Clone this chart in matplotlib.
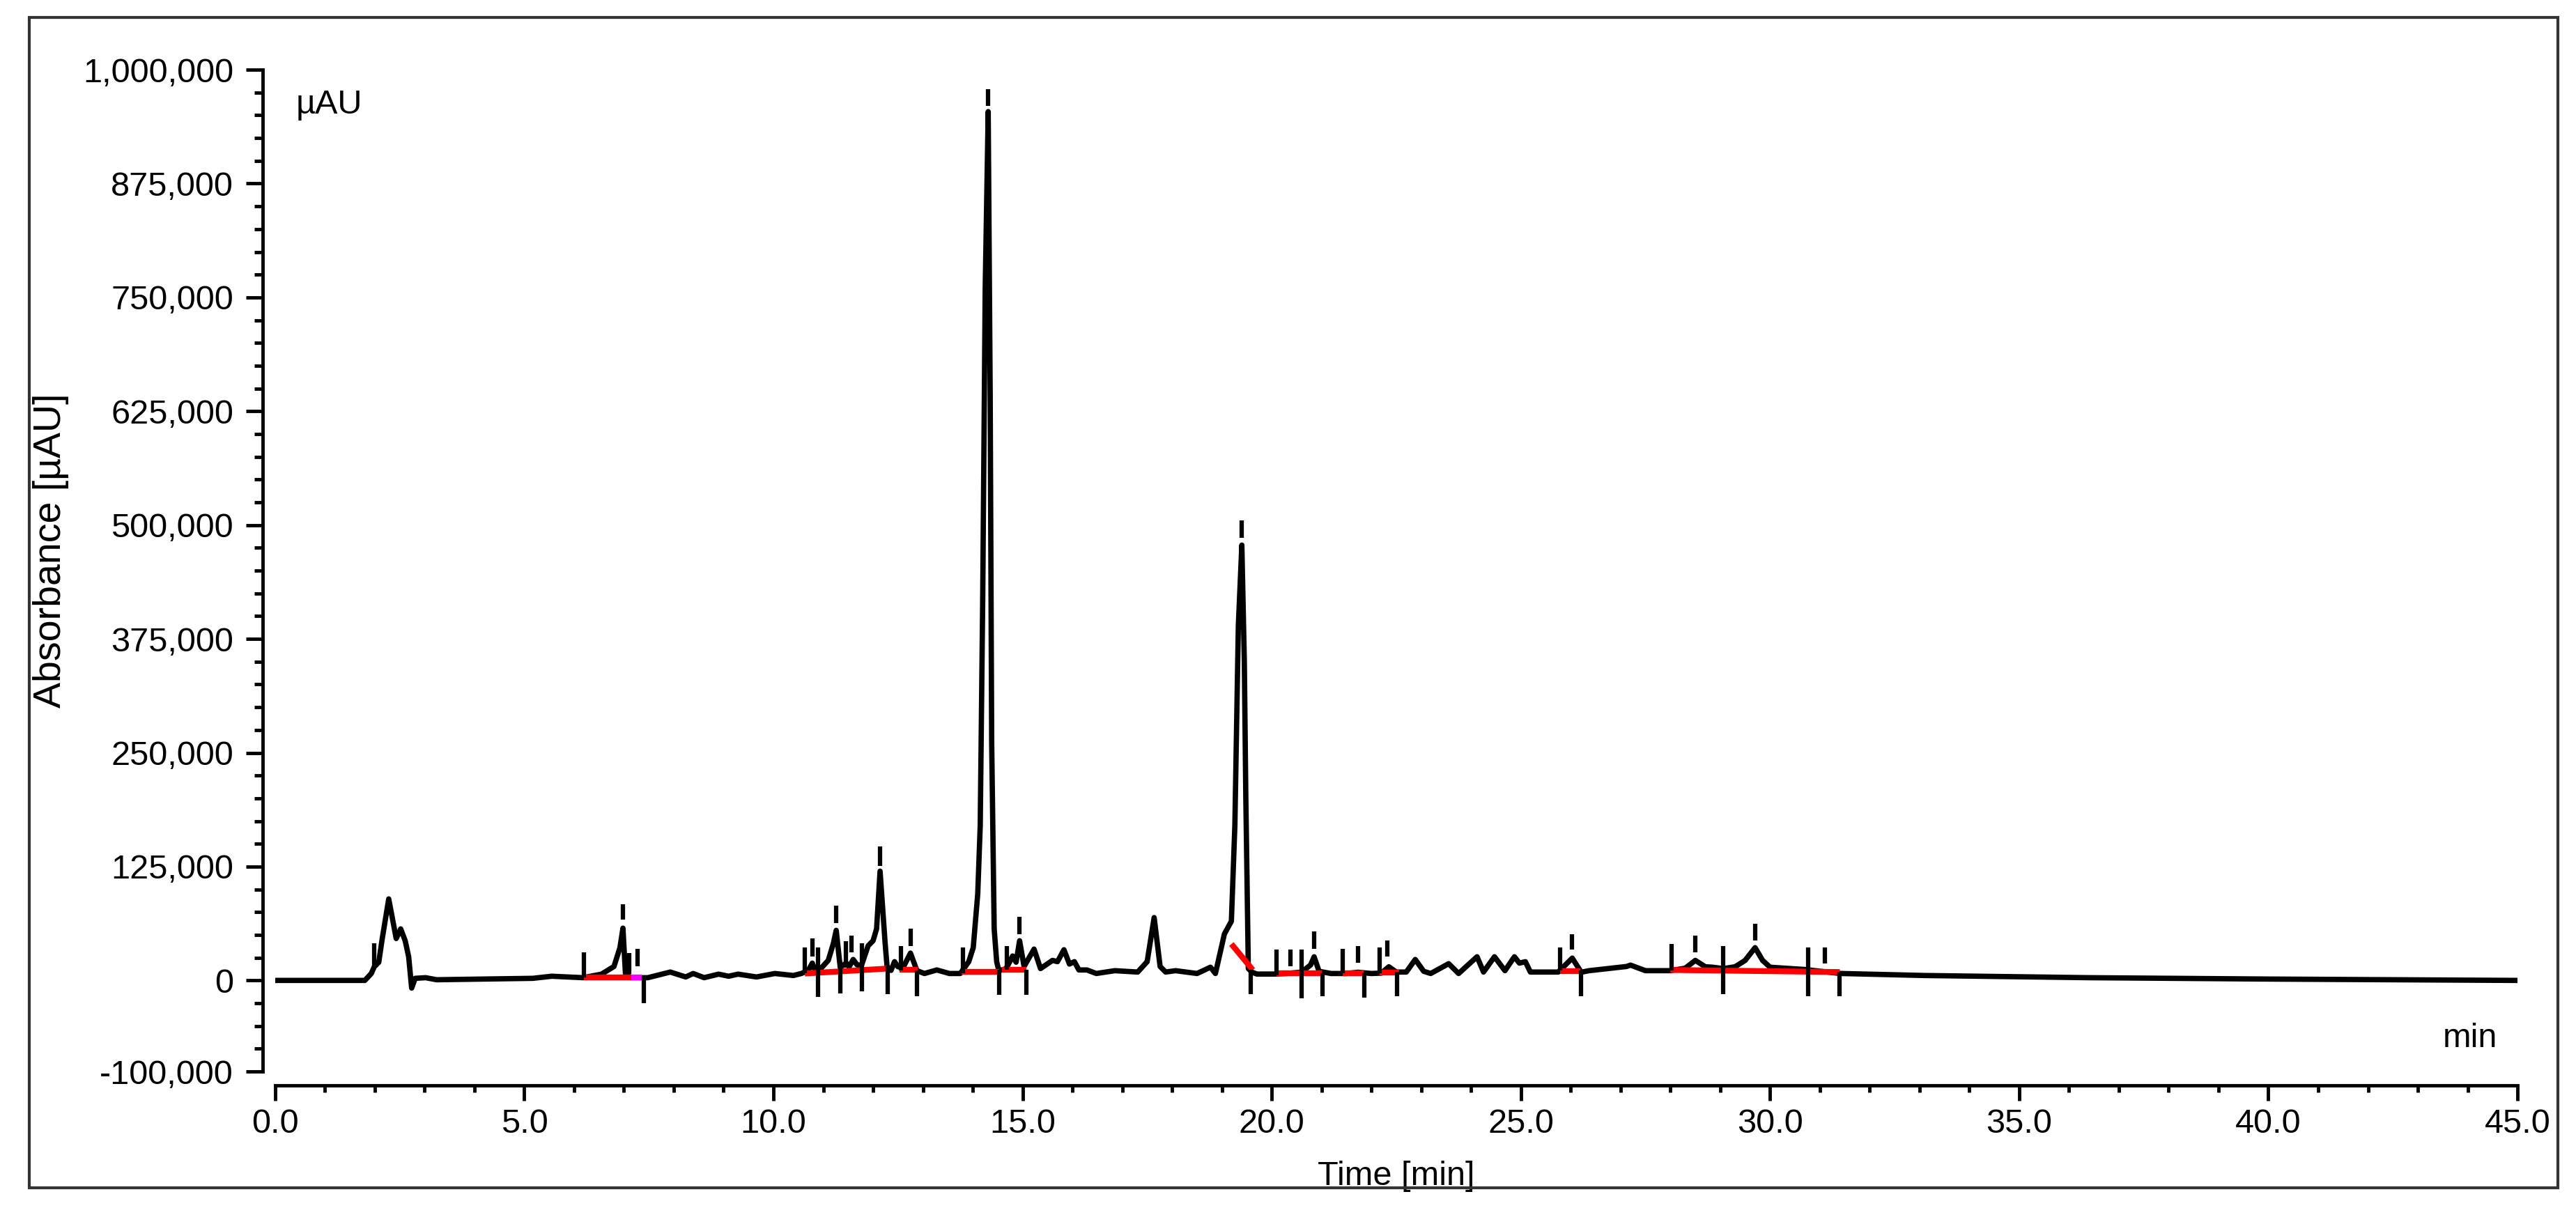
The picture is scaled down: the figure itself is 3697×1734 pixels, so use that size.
import matplotlib
matplotlib.use("Agg")
import matplotlib.pyplot as plt
from matplotlib.ticker import FixedLocator, MultipleLocator, FuncFormatter
from matplotlib.patches import Rectangle

plt.rcParams['font.family'] = ['Liberation Sans', 'DejaVu Sans']

# chromatogram trace (time in min, absorbance in µAU)
time_min = [
    0.0, 1.8, 1.93, 1.99, 2.08, 2.15, 2.28, 2.43, 2.52, 2.61, 2.68, 2.74, 2.81, 3.02, 3.24,
    5.17, 5.55, 6.18, 6.55, 6.8, 6.92, 6.98, 7.03, 7.14, 7.48, 7.93, 8.24, 8.39, 8.61, 8.9,
    9.1, 9.29, 9.66, 10.03, 10.4, 10.56, 10.7, 10.78, 10.85, 10.95, 11.1, 11.2, 11.26, 11.34,
    11.46, 11.52, 11.6, 11.68, 11.77, 11.9, 12.0, 12.07, 12.14, 12.24, 12.28, 12.36, 12.43,
    12.5, 12.62, 12.75, 12.88, 13.03, 13.28, 13.53, 13.75, 13.92, 14.01, 14.1, 14.15, 14.2,
    14.25, 14.31, 14.35, 14.38, 14.43, 14.48, 14.52, 14.62, 14.68, 14.8, 14.87, 14.94, 15.03,
    15.23, 15.36, 15.6, 15.7, 15.83, 15.94, 16.04, 16.13, 16.29, 16.48, 16.85, 17.31, 17.5,
    17.64, 17.76, 17.87, 18.07, 18.5, 18.77, 18.87, 19.05, 19.19, 19.26, 19.33, 19.4, 19.45,
    19.48, 19.53, 19.6, 19.7, 20.05, 20.3, 20.6, 20.78, 20.85, 20.95, 21.19, 21.5, 21.73,
    22.0, 22.2, 22.35, 22.5, 22.7, 22.88, 23.05, 23.19, 23.55, 23.75, 24.12, 24.25, 24.47,
    24.68, 24.87, 24.97, 25.09, 25.19, 25.75, 26.03, 26.21, 26.37, 27.12, 27.2, 27.5, 28.0,
    28.3, 28.5, 28.7, 28.85, 29.06, 29.3, 29.5, 29.7, 29.85, 30.0, 30.7, 31.4, 33.1, 36.4,
    40.0, 45.0,
]
absorbance = [
    0, 0, 7600, 15000, 20000, 46000, 89500, 46000, 56600, 43600, 26000, -8400, 2300, 3000, 750,
    2300, 4600, 3000, 6900, 15300, 36000, 57400, 7600, 3000, 3000, 9200, 3800, 7600, 3000, 6900,
    4600, 6900, 3800, 7600, 5400, 7600, 11000, 19000, 9000, 13000, 22000, 40000, 55000, 14500,
    19000, 15000, 23000, 17000, 17000, 38000, 43600, 56600, 120000, 42000, 15300, 11000, 20600,
    15000, 16000, 30000, 10700, 7600, 11500, 7600, 7600, 20600, 36000, 95000, 170000, 420000,
    760000, 954000, 640000, 260000, 56600, 20600, 11500, 11500, 14000, 26800, 20000, 43600, 15300,
    34400, 13000, 22000, 20600, 33700, 18000, 20600, 11500, 11500, 7600, 10700, 9200, 20600,
    69000, 15300, 9200, 10700, 7600, 14500, 7600, 51000, 65000, 170000, 390000, 478000, 350000,
    200000, 13000, 9200, 7000, 7000, 7600, 9200, 17000, 26000, 10000, 7600, 7600, 9000,
    7600, 8000, 15000, 9200, 9200, 23000, 10000, 7600, 18400, 7600, 26000, 9200, 26000,
    10700, 26000, 19000, 20600, 9200, 9200, 24500, 9000, 10700, 15300, 16800, 10700, 10700,
    13500, 22000, 15000, 14500, 13000, 15000, 22000, 36000, 22000, 14500, 12000, 7650, 5400, 3000,
    1500, 0,
]

# peak / boundary markers: time, lower and upper absorbance of each short vertical stroke
marker_time = [1.99, 6.2, 6.98, 7.1, 7.28, 7.4, 10.63, 10.78, 10.9, 11.26, 11.34, 11.46, 11.56,
               11.77, 12.14, 12.3, 12.56, 12.75, 12.88, 13.8, 14.31, 14.53, 14.68, 14.94, 15.08,
               19.4, 19.58, 20.1, 20.38, 20.6, 20.85, 21.02, 21.43, 21.73, 21.86, 22.17, 22.32,
               22.52, 25.78, 26.03, 26.21, 28.03, 28.5, 29.06, 29.7, 30.77, 31.1, 31.4]
marker_low = [15000, 3000, 66500, 7000, 15300, -25000, 7600, 26000, -18000, 63000, -14000, 14000,
              30600, -12000, 126000, -15300, 10700, 38000, -17500, 7600, 960000, -16000, 11500,
              51000, -16000, 486000, -15300, 5400, 15300, -20000, 34400, -17500, 7600, 19000,
              -19000, 7600, 26000, -17500, 10700, 33700, -17500, 10700, 30600, -15300, 43600,
              -17500, 18400, -17500]
marker_high = [41000, 30600, 84000, 30000, 34400, 3000, 36000, 46000, 36000, 82000, 14500, 43000,
               49000, 41000, 147000, 15300, 38000, 56600, 10700, 36000, 979000, 11500, 38000,
               70000, 11500, 505000, 11500, 34000, 34000, 34000, 53500, 7600, 34400, 38000,
               7600, 36000, 43600, 9200, 36000, 51000, 10700, 39800, 49000, 38000, 62000,
               36000, 36000, 9200]

# integration baselines (red), one start/end pair per segment
base_t0 = [6.2, 10.63, 12.53, 13.78, 14.59, 19.19, 20.1, 21.43, 22.17, 25.78, 28.0]
base_v0 = [3000, 7600, 11500, 9200, 12000, 40000, 7600, 7600, 9000, 10000, 11500]
base_t1 = [7.15, 12.28, 12.9, 14.53, 15.08, 19.62, 21.0, 21.85, 22.55, 26.19, 31.4]
base_v1 = [3000, 13000, 11500, 9200, 12000, 11500, 7600, 7600, 9000, 10000, 9200]
# short magenta segment after the 7 min peak
mag_t = [7.15, 7.36]
mag_v = [3000, 3000]

y_major = [-100000, 0, 125000, 250000, 375000, 500000, 625000, 750000, 875000, 1000000]
x_major = [0, 5, 10, 15, 20, 25, 30, 35, 40, 45]

fig = plt.figure(figsize=(36.97, 17.34), dpi=100)
ax = fig.add_axes([0.1068, 0.1130, 0.8705, 0.8293])

# outer frame round the whole figure
fig.patches.append(Rectangle((0.0114, 0.0167), 0.9816, 0.9689, transform=fig.transFigure,
                             fill=False, edgecolor='#333333', linewidth=3))

ax.plot(time_min, absorbance, color='black', lw=5.5, solid_joinstyle='round', zorder=3)
for t0, v0, t1, v1 in zip(base_t0, base_v0, base_t1, base_v1):
    ax.plot([t0, t1], [v0, v1], color='#ff0000', lw=6, solid_capstyle='butt', zorder=4)
ax.plot(mag_t, mag_v, color='#ff00ff', lw=6, solid_capstyle='butt', zorder=4)
ax.vlines(marker_time, marker_low, marker_high, color='black', lw=4.5, zorder=5)

ax.set_xlim(0, 45)
ax.set_ylim(-100000, 1000000)

for s in ['top', 'right']:
    ax.spines[s].set_visible(False)
ax.spines['left'].set_position(('outward', 13))
ax.spines['bottom'].set_position(('outward', 14))
ax.spines['left'].set_linewidth(3.5)
ax.spines['bottom'].set_linewidth(3.5)

ax.yaxis.set_major_locator(FixedLocator(y_major))
ax.yaxis.set_minor_locator(MultipleLocator(25000))
ax.xaxis.set_major_locator(FixedLocator(x_major))
ax.xaxis.set_minor_locator(MultipleLocator(1))
ax.yaxis.set_major_formatter(FuncFormatter(lambda v, p: f"{int(v):,}"))
ax.xaxis.set_major_formatter(FuncFormatter(lambda v, p: f"{v:.1f}"))

ax.tick_params(axis='y', which='major', direction='out', length=17, width=3.5, pad=13,
               labelsize=35, colors='black')
ax.tick_params(axis='y', which='minor', direction='out', length=9, width=3.5)
ax.tick_params(axis='x', which='major', direction='out', length=16, width=3.5, pad=8,
               labelsize=35, colors='black')
ax.tick_params(axis='x', which='minor', direction='out', length=7, width=3.5)

ax.set_xlabel('Time [min]', fontsize=35, labelpad=22)
ax.set_ylabel('Absorbance [µAU]', fontsize=40)
ax.yaxis.set_label_coords(-0.092, 0.52)

ax.text(0.41, 961600, 'µAU', fontsize=35, ha='left', va='center')
ax.text(43.5, -63500, 'min', fontsize=35, ha='left', va='center')

fig.savefig('out.png', dpi=100, facecolor='white')
